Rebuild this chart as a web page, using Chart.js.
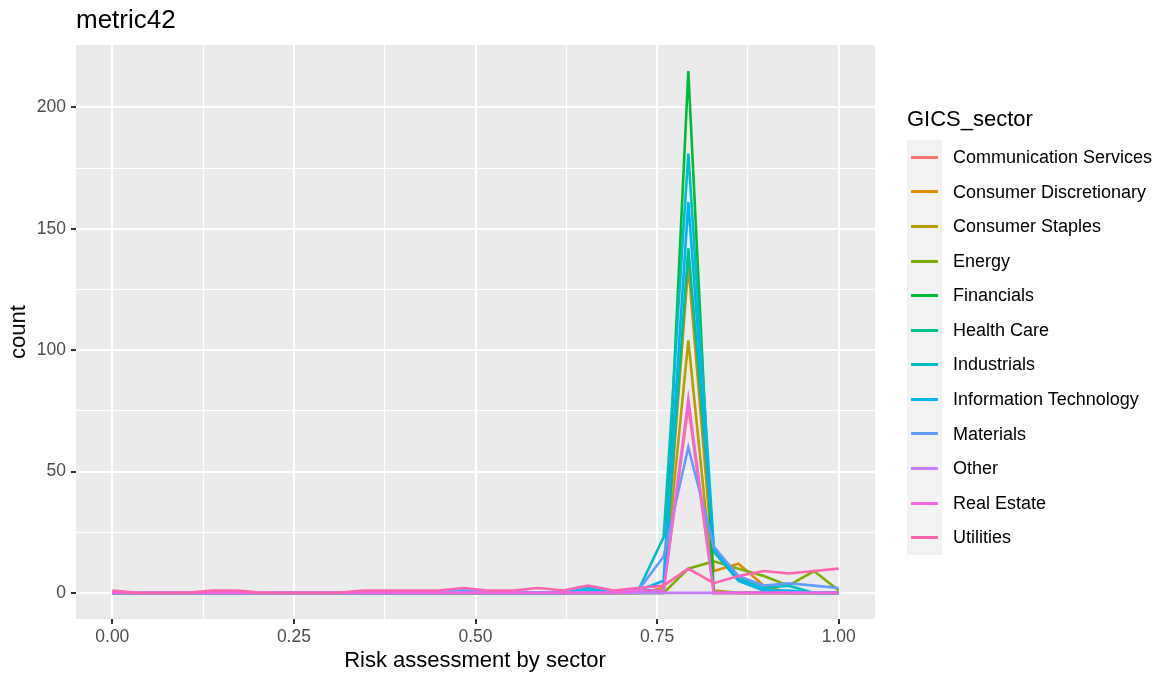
<!DOCTYPE html>
<html>
<head>
<meta charset="utf-8">
<script src="https://cdn.jsdelivr.net/npm/chart.js@4.4.1/dist/chart.umd.min.js"></script>
<style>
    body { margin: 0; background: #fff; font-family: "Liberation Sans", Arial, sans-serif; }
    #wrap { position: relative; width: 1161px; height: 675px; }
    #chart { position: absolute; left: 0; top: 0; }
    .txt { position: absolute; white-space: nowrap; color: #000; }
    #legendKeys { position: absolute; left: 907px; top: 140px; width: 35px; height: 415px; background: #F2F2F2; }
</style>
</head>
<body>
<div id="wrap">
    <canvas id="chart" width="1161" height="675"></canvas>
    <div class="txt" id="title" style="left:76px; top:6px; font-size:26px; line-height:26px;">metric42</div>
    <div class="txt" id="xTitle" style="left:475px; top:649px; font-size:22px; line-height:22px; transform:translateX(-50%);">Risk assessment by sector</div>
    <div class="txt" id="yTitle" style="left:18px; top:332px; font-size:22px; line-height:22px; transform:translate(-50%,-50%) rotate(-90deg);">count</div>
    <div class="txt" id="legendTitle" style="left:907px; top:108px; font-size:22px; line-height:22px;">GICS_sector</div>
    <div id="legendKeys"></div>
</div>
<script>
// Datos del gráfico (polígono de frecuencias por sector)
const binCenters = [0, 0.034, 0.069, 0.103, 0.138, 0.172, 0.207, 0.241, 0.276, 0.310,
    0.345, 0.379, 0.414, 0.448, 0.483, 0.517, 0.552, 0.586, 0.621, 0.655,
    0.690, 0.724, 0.759, 0.793, 0.828, 0.862, 0.897, 0.931, 0.966, 1.0];

const sectors = ['Communication Services', 'Consumer Discretionary', 'Consumer Staples', 'Energy',
    'Financials', 'Health Care', 'Industrials', 'Information Technology', 'Materials',
    'Other', 'Real Estate', 'Utilities'];

const commServices  = [0,0,0,0,0,0,0,0,0,0, 0,0,0,0,0,0,0,0,0,0, 0,0,1,77,0,0,0,0,0,0];
const consDisc      = [0,0,0,0,0,0,0,0,0,0, 0,0,0,0,0,0,0,0,0,0, 0,0,2,135,9,12,3,0,0,0];
const consStaples   = [0,0,0,0,0,0,0,0,0,0, 0,0,0,0,0,0,0,0,0,0, 0,1,1,104,1,0,0,0,0,0];
const energy        = [0,0,0,0,0,0,0,0,0,0, 0,0,0,0,0,0,0,0,0,0, 0,0,0,10,13,10,7,3,9,1];
const financials    = [0,0,0,0,0,0,0,0,0,0, 0,0,0,0,0,0,0,0,0,0, 0,0,0,215,0,0,0,0,0,0];
const healthCare    = [0,0,0,0,0,0,0,0,0,0, 0,0,0,0,0,0,0,0,0,0, 0,1,1,142,17,5,1,0,0,0];
const industrials   = [0,0,0,0,0,0,0,0,0,0, 0,0,0,0,1,0,0,0,0,1, 0,1,23,181,19,6,2,3,0,0];
const infoTech      = [0,0,0,0,0,0,0,0,0,0, 0,0,0,0,0,0,0,0,0,2, 0,1,5,161,18,5,1,1,0,0];
const materials     = [0,0,0,0,0,0,0,0,0,0, 0,0,0,0,1,0,0,0,0,0, 0,1,15,60,19,7,3,4,3,2];
const other         = [0,0,0,0,0,0,0,0,0,0, 0,0,0,0,0,0,0,0,0,0, 0,0,0,0,0,0,0,0,0,0];
const realEstate    = [0,0,0,0,0,0,0,0,0,0, 0,0,0,0,0,0,0,0,0,0, 0,1,1,80,0,0,0,0,0,0];
const utilities     = [1,0,0,0,1,1,0,0,0,0, 1,1,1,1,2,1,1,2,1,3, 1,2,3,10,4,7,9,8,9,10];

const xTicks = [0, 0.125, 0.25, 0.375, 0.5, 0.625, 0.75, 0.875, 1];
const yTicks = [0, 25, 50, 75, 100, 125, 150, 175, 200];

// Paleta por defecto de ggplot2 (hue_pal) para 12 grupos
const palette = ['#F8766D', '#DE8C00', '#B79F00', '#7CAE00', '#00BA38', '#00C08B',
    '#00BFC4', '#00B4F0', '#619CFF', '#C77CFF', '#F564E3', '#FF64B0'];

const seriesValues = [commServices, consDisc, consStaples, energy, financials, healthCare,
    industrials, infoTech, materials, other, realEstate, utilities];

const datasets = sectors.map(function(name, i) {
    return {
        label: name,
        data: binCenters.map(function(x, j) { return { x: x, y: seriesValues[i][j] }; }),
        borderColor: palette[i],
        borderWidth: 2.6,
        pointRadius: 0,
        tension: 0,
        fill: false,
        order: sectors.length - 1 - i   // el último sector queda encima, como en ggplot
    };
});

// Fondo gris del panel
const panelBackground = {
    id: 'panelBackground',
    beforeDraw: function(chart) {
        const a = chart.chartArea;
        const ctx = chart.ctx;
        ctx.save();
        ctx.fillStyle = '#EBEBEB';
        ctx.fillRect(a.left, a.top, a.right - a.left, a.bottom - a.top);
        ctx.restore();
    }
};

const isMajorX = function(v) { return Math.abs(v * 4 - Math.round(v * 4)) < 1e-6; };
const isMajorY = function(v) { return v % 50 === 0; };

const tickFont = { family: '"Liberation Sans", Arial, sans-serif', size: 17.5 };

new Chart(document.getElementById('chart'), {
    type: 'line',
    data: { datasets: datasets },
    plugins: [panelBackground],
    options: {
        responsive: false,
        devicePixelRatio: 1,
        animation: false,
        layout: { padding: { left: 0, top: 45, right: 286, bottom: 0 } },
        plugins: {
            legend: { display: false },
            tooltip: { enabled: false }
        },
        scales: {
            x: {
                type: 'linear',
                min: -0.05,
                max: 1.05,
                afterBuildTicks: function(scale) {
                    scale.ticks = xTicks.map(function(v) { return { value: v }; });
                },
                afterFit: function(scale) { scale.height = 56; },
                border: { display: false },
                grid: {
                    color: '#FFFFFF',
                    lineWidth: function(c) { return isMajorX(c.tick.value) ? 2 : 1; },
                    drawTicks: true,
                    tickLength: 5,
                    tickWidth: 2,
                    tickColor: function(c) { return isMajorX(c.tick.value) ? '#333333' : 'rgba(0,0,0,0)'; }
                },
                ticks: {
                    autoSkip: false,
                    maxRotation: 0,
                    padding: 3,
                    color: '#4D4D4D',
                    font: tickFont,
                    callback: function(v) { return isMajorX(v) ? v.toFixed(2) : ''; }
                }
            },
            y: {
                type: 'linear',
                min: -10.75,
                max: 225.75,
                afterBuildTicks: function(scale) {
                    scale.ticks = yTicks.map(function(v) { return { value: v }; });
                },
                afterFit: function(scale) { scale.width = 76; },
                border: { display: false },
                grid: {
                    color: '#FFFFFF',
                    lineWidth: function(c) { return isMajorY(c.tick.value) ? 2 : 1; },
                    drawTicks: true,
                    tickLength: 5,
                    tickWidth: 2,
                    tickColor: function(c) { return isMajorY(c.tick.value) ? '#333333' : 'rgba(0,0,0,0)'; }
                },
                ticks: {
                    autoSkip: false,
                    padding: 5,
                    color: '#4D4D4D',
                    font: tickFont,
                    callback: function(v) { return isMajorY(v) ? String(v) : ''; }
                }
            }
        }
    }
});

// Leyenda estilo ggplot
const wrap = document.getElementById('wrap');
const rowH = 34.58;
sectors.forEach(function(name, i) {
    const key = document.createElement('div');
    key.style.cssText = 'position:absolute; left:911px; width:27px; height:3px; background:' + palette[i] +
        '; top:' + Math.round(140 + rowH * i + rowH / 2 - 1.5) + 'px;';
    wrap.appendChild(key);
    const label = document.createElement('div');
    label.className = 'txt';
    label.textContent = name;
    label.style.cssText += 'left:953px; font-size:18px; line-height:' + rowH + 'px; top:' + (140 + rowH * i) + 'px;';
    wrap.appendChild(label);
});
</script>
</body>
</html>
